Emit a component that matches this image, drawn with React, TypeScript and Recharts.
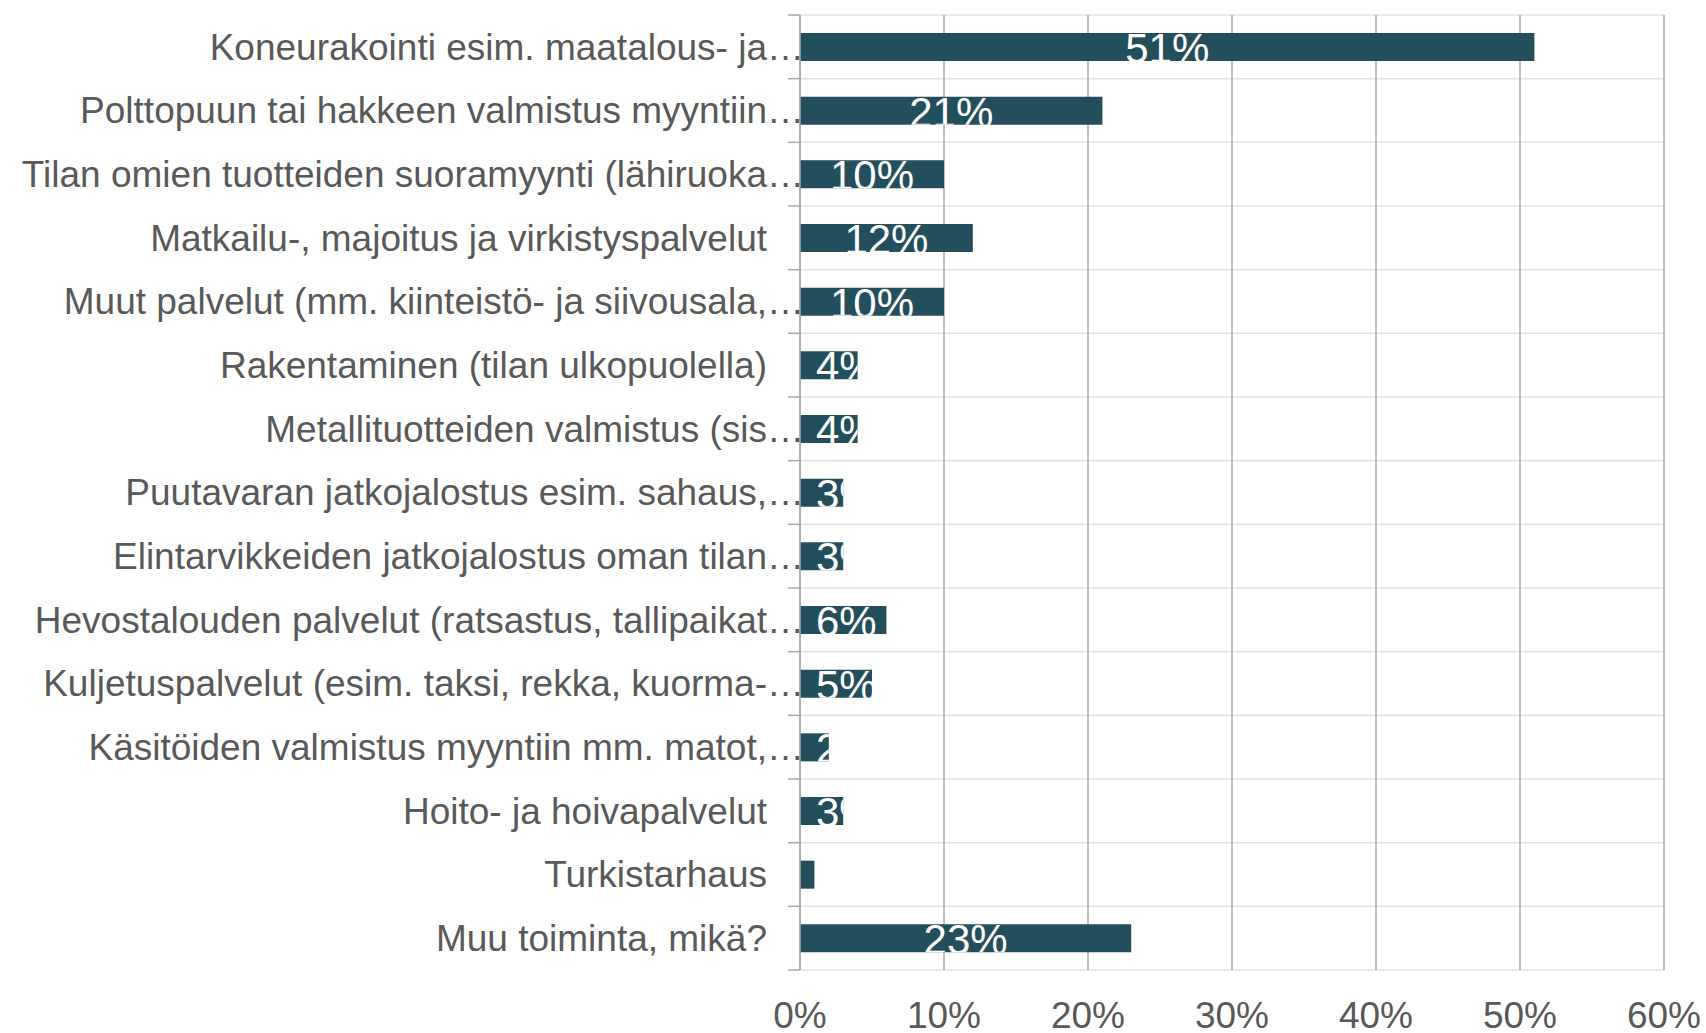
import React from "react";
import { BarChart, Bar, XAxis, YAxis, CartesianGrid, LabelList } from "recharts";

const categories = [
  "Koneurakointi esim. maatalous- ja…",
  "Polttopuun tai hakkeen valmistus myyntiin…",
  "Tilan omien tuotteiden suoramyynti (lähiruoka…",
  "Matkailu-, majoitus ja virkistyspalvelut",
  "Muut palvelut (mm. kiinteistö- ja siivousala,…",
  "Rakentaminen (tilan ulkopuolella)",
  "Metallituotteiden valmistus (sis…",
  "Puutavaran jatkojalostus esim. sahaus,…",
  "Elintarvikkeiden jatkojalostus oman tilan…",
  "Hevostalouden palvelut (ratsastus, tallipaikat…",
  "Kuljetuspalvelut (esim. taksi, rekka, kuorma-…",
  "Käsitöiden valmistus myyntiin mm. matot,…",
  "Hoito- ja hoivapalvelut",
  "Turkistarhaus",
  "Muu toiminta, mikä?",
];
const shares = [51, 21, 10, 12, 10, 4, 4, 3, 3, 6, 5, 2, 3, 1, 23];
const xTicks = [0, 10, 20, 30, 40, 50, 60];

const W = 1706;
const H = 1033;
const MARGIN = { top: 15, right: 42, bottom: 0, left: 0 };
const XAXIS_H = 63;
const AXIS_X = 800;
const BAND = (H - MARGIN.top - XAXIS_H) / categories.length;
const BAR_COLOR = "#234e5c";
const TEXT = "#595959";
const DARK_GRID = "#a9a9a9";
const LIGHT_GRID = "#e2e2e2";
const FONT = "'Liberation Sans', Arial, sans-serif";

const data = categories.map((name, i) => ({ name, value: shares[i] }));

// rough Arial advance widths, used to place the clipped value labels
const textWidth = (s: string, size: number) =>
  s.split("").reduce((w, c) => w + (c === "%" ? 0.889 : 0.556), 0) * size;

function CategoryTick(props: any) {
  const { y, payload, index } = props;
  const label = String(payload.value);
  const cut = label.endsWith("…");
  return (
    <g>
      <text x={cut ? AXIS_X + 4 : AXIS_X - 33} y={y} dy="0.35em" textAnchor="end"
        fontSize={37} fill={TEXT} fontFamily={FONT}>{label}</text>
      <line x1={AXIS_X - 12} x2={AXIS_X} y1={y - BAND / 2} y2={y - BAND / 2} stroke={DARK_GRID} strokeWidth={1.5} />
      {index === categories.length - 1 && (
        <line x1={AXIS_X - 12} x2={AXIS_X} y1={y + BAND / 2} y2={y + BAND / 2} stroke={DARK_GRID} strokeWidth={1.5} />
      )}
    </g>
  );
}

function ValueLabel(props: any) {
  const { x, y, width, height, value, index } = props;
  const txt = `${value}%`;
  const size = 42;
  const start = Math.max(x + width / 2 - textWidth(txt, size) / 2, x + 16);
  const id = `bar-clip-${index}`;
  return (
    <g>
      <clipPath id={id}>
        <rect x={x} y={y} width={width} height={height} />
      </clipPath>
      <text x={start} y={y + height / 2 + 16} fontSize={size} fill="#ffffff" fontFamily={FONT}
        clipPath={`url(#${id})`}>{txt}</text>
    </g>
  );
}

export default function App() {
  return (
    <div style={{ position: "absolute", left: 0, top: 0, background: "#fff" }}>
      <BarChart width={W} height={H} data={data} layout="vertical" margin={MARGIN}>
        <CartesianGrid
          stroke={LIGHT_GRID}
          strokeWidth={1.5}
          vertical={false}
          horizontalCoordinatesGenerator={({ offset }: any) =>
            Array.from({ length: categories.length + 1 }, (_, i) => offset.top + (i * offset.height) / categories.length)
          }
        />
        <CartesianGrid stroke={DARK_GRID} strokeWidth={1.5} horizontal={false} />
        <XAxis type="number" domain={[0, 60]} ticks={xTicks} tickFormatter={(v) => `${v}%`}
          axisLine={false} tickLine={false} tickMargin={26} height={XAXIS_H}
          tick={{ fontSize: 37, fill: TEXT, fontFamily: FONT }} interval={0} />
        <XAxis xAxisId="top" orientation="top" type="number" domain={[0, 60]} height={0}
          tick={false} tickLine={false} axisLine={{ stroke: DARK_GRID, strokeWidth: 1.5 }} />
        <YAxis type="category" dataKey="name" width={AXIS_X} tick={<CategoryTick />} tickLine={false}
          axisLine={{ stroke: DARK_GRID, strokeWidth: 1.5 }} interval={0} />
        <Bar dataKey="value" fill={BAR_COLOR} barSize={28} isAnimationActive={false}>
          <LabelList dataKey="value" content={<ValueLabel />} />
        </Bar>
      </BarChart>
    </div>
  );
}
